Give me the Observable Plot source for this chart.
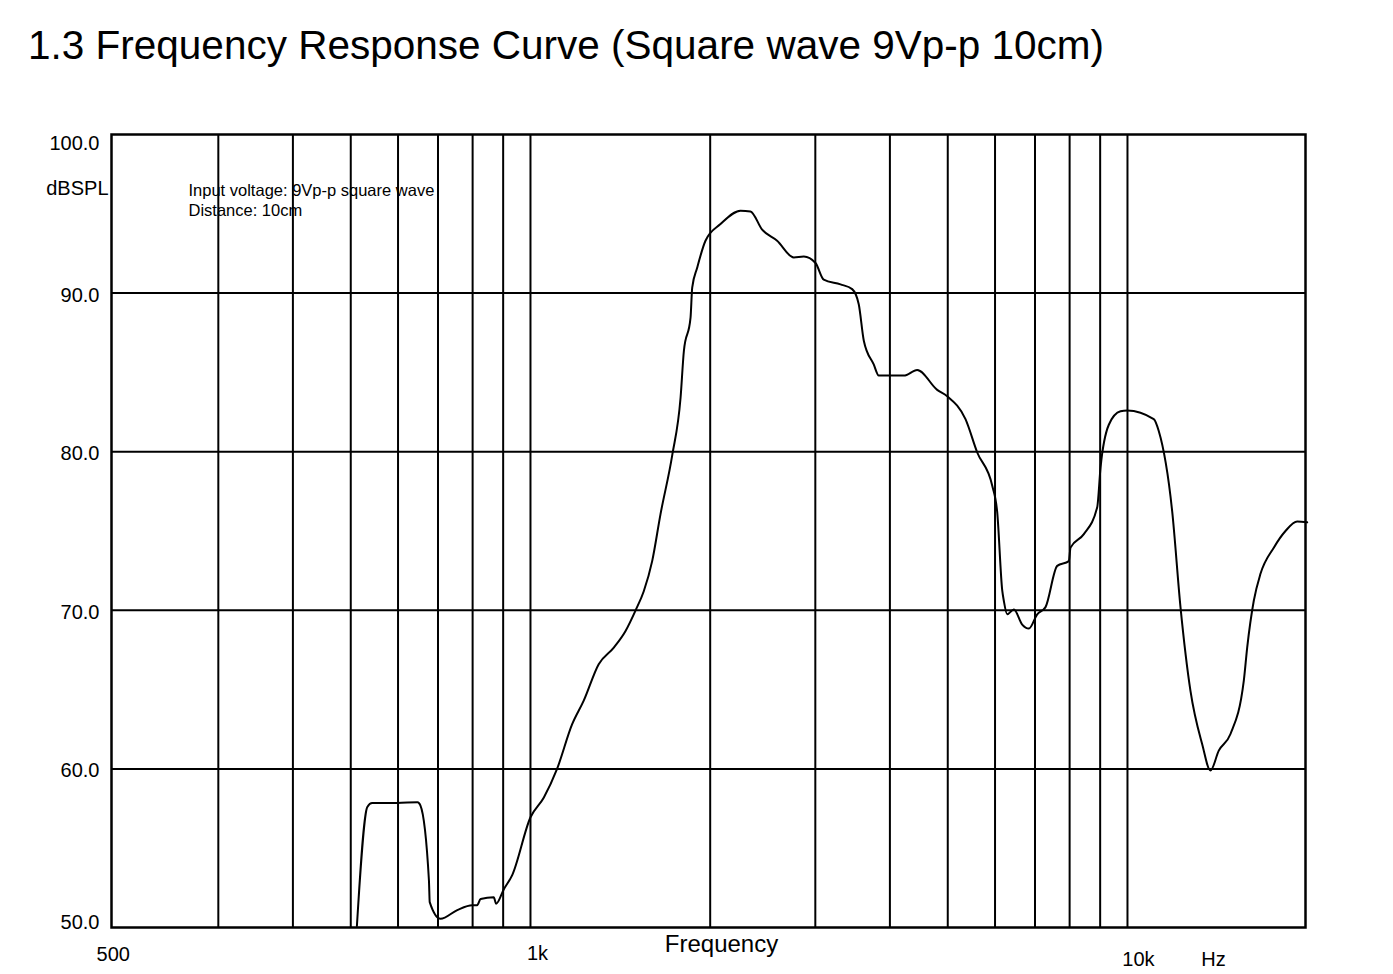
<!DOCTYPE html>
<html>
<head>
<meta charset="utf-8">
<script src="https://cdn.jsdelivr.net/npm/d3@7"></script>
<script src="https://cdn.jsdelivr.net/npm/@observablehq/plot@0.6"></script>
<style>
  html, body { margin: 0; padding: 0; background: #fff; }
  #title {
    box-sizing: border-box;
    height: 90px;
    padding: 27px 0 0 28px;
    font-family: "Liberation Sans", Arial, sans-serif;
    font-size: 40.5px;
    line-height: 37px;
    color: #000;
    white-space: nowrap;
  }
  #chart svg { display: block; }
</style>
</head>
<body>
<div id="title">1.3 Frequency Response Curve (Square wave 9Vp-p 10cm)</div>
<div id="chart"></div>
<script>
// ---- data ----
const freqs = [512, 533, 543, 598, 647, 654, 676, 678, 707, 754, 799, 814, 825, 868, 876, 902, 932,
  1000, 1053, 1108, 1174, 1228, 1301, 1379, 1443, 1500, 1548, 1599, 1651, 1728, 1784, 1807, 1854,
  1866, 1902, 1964, 2081, 2248, 2336, 2444, 2589, 2761, 2870, 3002, 3099, 3306, 3458, 3547, 3617,
  3758, 3832, 4221, 4444, 4800, 4989, 5354, 5602, 5936, 6050, 6169, 6207, 6289, 6451, 6663, 6836,
  7060, 7290, 7626, 7976, 8028, 8451, 8898, 9013, 9306, 9735, 9989, 11067, 11282, 11881, 12269,
  12752, 13340, 13772, 14221, 14878, 15661, 15868, 16277, 16702, 17582, 18393, 19242, 20000];
const spl = [50.1, 57.6, 57.85, 57.85, 57.9, 57.7, 52.95, 51.6, 50.55, 51.1, 51.4, 51.4, 51.8, 51.9, 51.5, 52.4, 53.3,
  56.95, 58.2, 60.0, 62.8, 64.3, 66.6, 67.65, 68.7, 70.0, 71.2, 73.1, 76.05, 79.8, 83.4, 86.35, 88.45,
  90.35, 91.6, 93.3, 94.35, 95.2, 95.15, 94.0, 93.3, 92.25, 92.3, 91.9, 90.85, 90.55, 90.25, 89.3, 87.0,
  85.5, 84.8, 84.8, 85.15, 83.9, 83.5, 82.05, 79.95, 77.85, 76.2, 71.25, 70.6, 69.75, 70.05, 69.1, 68.85,
  69.75, 70.2, 72.8, 73.1, 73.95, 74.8, 76.5, 79.0, 81.7, 82.55, 82.6, 82.05, 81.3, 76.25, 70.2,
  64.9, 61.55, 59.9, 61.15, 62.2, 65.55, 67.65, 70.6, 72.3, 73.95, 75.0, 75.6, 75.55];

const gridFreqs = [300, 400, 500, 600, 700, 800, 900, 1000, 2000, 3000, 4000, 5000, 6000, 7000, 8000, 9000, 10000];
const gridLevels = [60, 70, 80, 90];
const yTickValues = [100, 90, 80, 70, 60, 50];
const xTickValues = [200, 1000, 10000];
const xTickLabels = ["500", "1k", "10k"];
const yUnit = "dBSPL";
const xUnit = "Hz";
const xTitle = "Frequency";
const noteLines = ["Input voltage: 9Vp-p square wave", "Distance: 10cm"];

const curve = freqs.map((f, i) => ({f, db: spl[i]}));
const fmtY = d => d.toFixed(1);

const font = 20;
const chart = Plot.plot({
  width: 1393,
  height: 884,
  marginTop: 44,
  marginBottom: 47,
  marginLeft: 111,
  marginRight: 88,
  x: {type: "log", domain: [198.7, 19870], axis: null},
  y: {domain: [50, 100], axis: null},
  style: {fontFamily: '"Liberation Sans", Arial, sans-serif', background: "white", color: "black"},
  marks: [
    Plot.ruleX(gridFreqs, {stroke: "black", strokeWidth: 2}),
    Plot.ruleY(gridLevels, {stroke: "black", strokeWidth: 2}),
    Plot.frame({stroke: "black", strokeWidth: 2.5}),
    Plot.line(curve, {x: "f", y: "db", stroke: "black", strokeWidth: 2, curve: "monotone-x", strokeLinejoin: "round"}),
    // y tick labels
    Plot.text(yTickValues.filter(v => v !== 100 && v !== 50), {y: d => d, text: fmtY, frameAnchor: "left", textAnchor: "end", dx: -12, dy: 2, fontSize: font, fill: "black"}),
    Plot.text(yTickValues.filter(v => v === 100), {y: d => d, text: fmtY, frameAnchor: "left", textAnchor: "end", dx: -12, dy: 9, fontSize: font, fill: "black"}),
    Plot.text(yTickValues.filter(v => v === 50), {y: d => d, text: fmtY, frameAnchor: "left", textAnchor: "end", dx: -12, dy: -5, fontSize: font, fill: "black"}),
    Plot.text([yUnit], {frameAnchor: "top-left", textAnchor: "end", lineAnchor: "middle", dx: -3, dy: 54, fontSize: font, fill: "black"}),
    // annotation
    Plot.text([noteLines.join("\n")], {frameAnchor: "top-left", textAnchor: "start", lineAnchor: "top", dx: 77, dy: 47, fontSize: 16.5, lineHeight: 1.21, fill: "black"}),
    // x tick labels
    Plot.text([0], {x: () => xTickValues[0], text: () => xTickLabels[0], frameAnchor: "bottom", textAnchor: "middle", lineAnchor: "top", dx: 0, dy: 19, fontSize: font, fill: "black"}),
    Plot.text([1], {x: () => xTickValues[1], text: () => xTickLabels[1], frameAnchor: "bottom", textAnchor: "middle", lineAnchor: "top", dx: 7, dy: 18, fontSize: font, fill: "black"}),
    Plot.text([2], {x: () => xTickValues[2], text: () => xTickLabels[2], frameAnchor: "bottom", textAnchor: "middle", lineAnchor: "top", dx: 11, dy: 24, fontSize: font, fill: "black"}),
    Plot.text([xUnit], {frameAnchor: "bottom-right", textAnchor: "middle", lineAnchor: "top", dx: -92, dy: 24, fontSize: font, fill: "black"}),
    Plot.text([xTitle], {frameAnchor: "bottom", textAnchor: "middle", lineAnchor: "top", dx: 13, dy: 7, fontSize: 24, fill: "black"})
  ]
});
document.getElementById("chart").appendChild(chart);
</script>
</body>
</html>
